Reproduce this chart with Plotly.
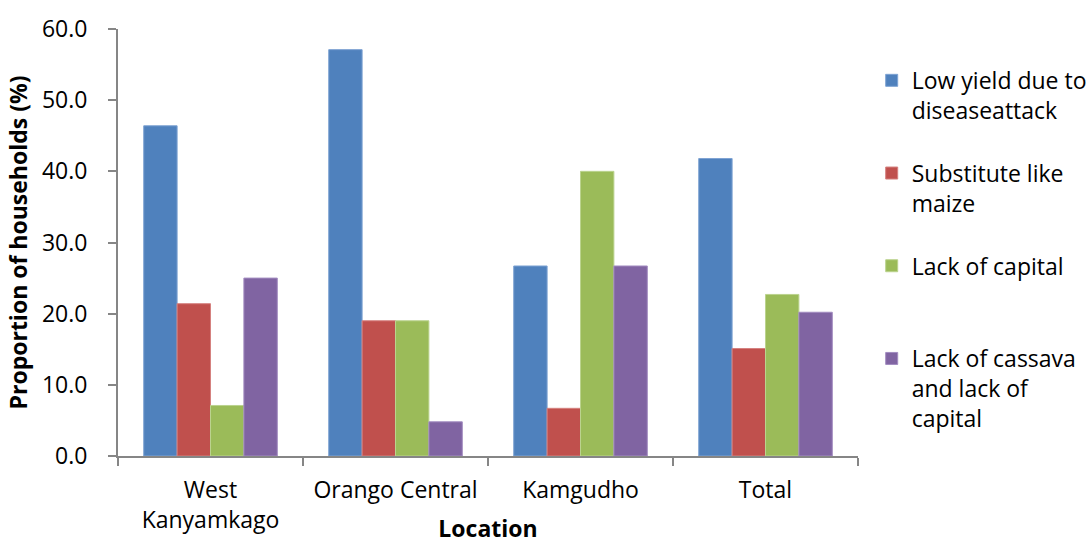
import plotly.graph_objects as go

# Locations on the category axis
locations = ["West<br>Kanyamkago", "Orango Central", "Kamgudho", "Total"]

# Proportion of households (%) citing each reason
low_yield = [46.4, 57.1, 26.7, 41.8]
substitute_maize = [21.4, 19.0, 6.7, 15.1]
lack_capital = [7.1, 19.0, 40.0, 22.7]
lack_cassava_capital = [25.0, 4.8, 26.7, 20.2]

# Legend names (padded to three lines so entries are evenly spaced)
series_names = [
    "Low yield due to<br>diseaseattack<br>\u00a0",
    "Substitute like<br>maize<br>\u00a0",
    "Lack of capital<br>\u00a0<br>\u00a0",
    "Lack of cassava<br>and lack of<br>capital",
]
series_values = [low_yield, substitute_maize, lack_capital, lack_cassava_capital]
fill_colors = ["#4F81BD", "#C0504D", "#9BBB59", "#8064A2"]
edge_colors = ["#7EA3D3", "#D5817F", "#BBD38E", "#A28CC0"]

FONT = "Open Sans"
SIZE = 23
AXIS_GREY = "#868686"

fig = go.Figure()
for name, vals, fc, ec in zip(series_names, series_values, fill_colors, edge_colors):
    fig.add_trace(
        go.Bar(
            x=locations,
            y=vals,
            name=name,
            marker=dict(color=fc, line=dict(color=ec, width=1)),
        )
    )

fig.update_layout(
    width=1091,
    height=544,
    margin=dict(l=118, r=233, t=29, b=88, autoexpand=False),
    paper_bgcolor="white",
    plot_bgcolor="white",
    barmode="group",
    bargap=0.278,
    bargroupgap=0,
    font=dict(family=FONT, size=SIZE, color="#000000"),
    showlegend=True,
    legend=dict(
        x=1.0185,
        xanchor="left",
        y=0.93,
        yanchor="top",
        valign="top",
        font=dict(family=FONT, size=SIZE, color="#000000"),
        itemwidth=30,
        tracegroupgap=0,
        bgcolor="rgba(0,0,0,0)",
    ),
    xaxis=dict(
        title=dict(text="<b>Location</b>", font=dict(family=FONT, size=SIZE), standoff=9),
        automargin=False,
        showline=True,
        linecolor=AXIS_GREY,
        linewidth=2,
        ticks="outside",
        tickson="boundaries",
        ticklen=8,
        tickwidth=2,
        tickcolor=AXIS_GREY,
        showgrid=False,
        tickfont=dict(family=FONT, size=SIZE),
        ticklabelstandoff=12,
        range=[-0.5, 3.5],
    ),
    yaxis=dict(
        title=dict(
            text="<b>Proportion of households (%)</b>",
            font=dict(family=FONT, size=SIZE),
            standoff=8,
        ),
        automargin=False,
        range=[0, 60],
        dtick=10,
        tickformat=".1f",
        showline=True,
        linecolor=AXIS_GREY,
        linewidth=2,
        ticks="outside",
        ticklen=8,
        tickwidth=2,
        tickcolor=AXIS_GREY,
        showgrid=False,
        zeroline=False,
        tickfont=dict(family=FONT, size=SIZE),
        ticklabelstandoff=16,
    ),
)

fig.write_html("out.html")
